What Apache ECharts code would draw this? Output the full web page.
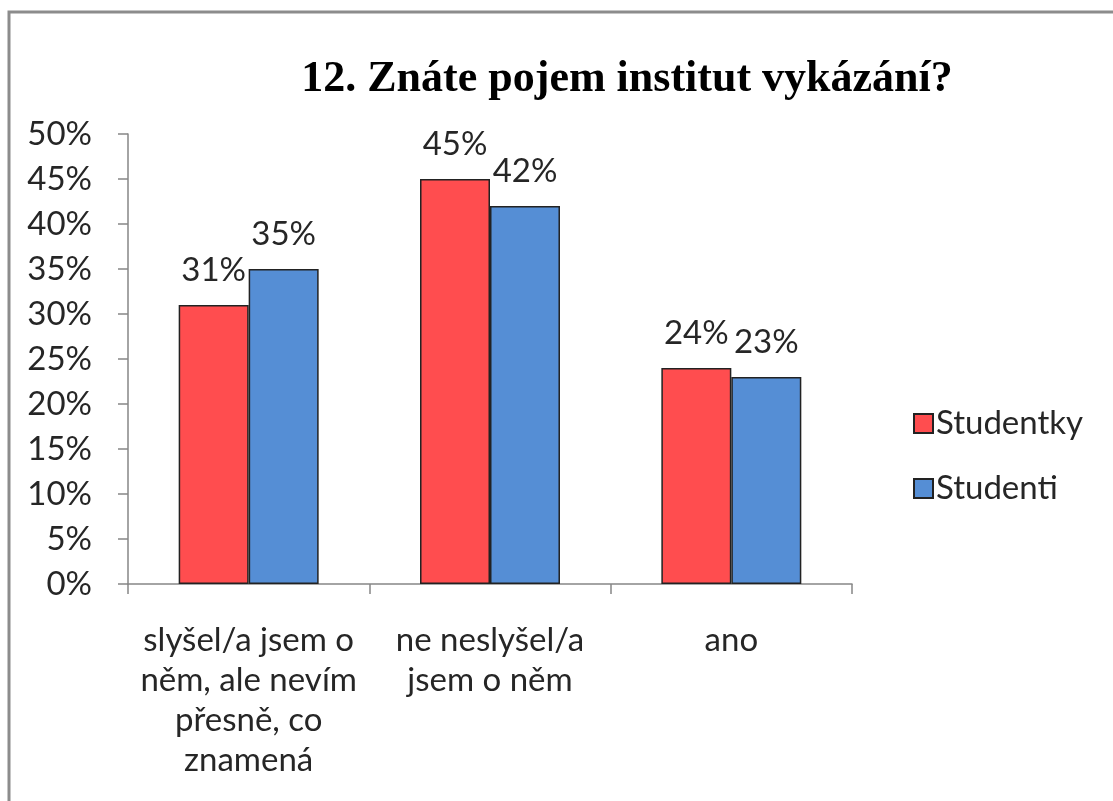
<!DOCTYPE html>
<html>
<head>
<meta charset="utf-8">
<script src="https://cdn.jsdelivr.net/npm/echarts@6/dist/echarts.min.js"></script>
<style>
  html, body { margin: 0; padding: 0; background: #fff; }
  #chart { width: 1113px; height: 801px; }
</style>
</head>
<body>
<div id="chart"></div>
<script>
var categories = ['slyšel/a jsem o\nněm, ale nevím\npřesně, co\nznamená', 'ne neslyšel/a\njsem o něm', 'ano'];
var studentky = [31, 45, 24];
var studenti = [35, 42, 23];
var yTicks = [0, 5, 10, 15, 20, 25, 30, 35, 40, 45, 50];

var txt = '#262626';
var font = 'Lato';
var fs = 33;

var myChart = echarts.init(document.getElementById('chart'));
var option = {
    backgroundColor: '#fff',
    animation: false,
    title: {
        text: '12. Znáte pojem institut vykázání?',
        left: 622,
        top: 53,
        textAlign: 'center',
        textStyle: {
            fontFamily: 'Liberation Serif',
            fontWeight: 'bold',
            fontSize: 44,
            color: '#000'
        }
    },
    graphic: [{
        type: 'rect',
        shape: { x: 9, y: 12, width: 1200, height: 900 },
        style: { fill: 'none', stroke: '#8c8c8c', lineWidth: 3 },
        silent: true
    }],
    legend: {
        orient: 'vertical',
        left: 908,
        top: 402,
        itemWidth: 19,
        itemHeight: 19,
        itemGap: 32,
        icon: 'rect',
        textStyle: { fontFamily: font, fontSize: fs, color: txt, padding: [0, 0, 0, -2] },
        data: ['Studentky', 'Studenti']
    },
    grid: { left: 128, right: 261, top: 134, bottom: 217 },
    xAxis: {
        type: 'category',
        data: categories,
        axisLine: { lineStyle: { color: '#868686', width: 1.5 } },
        axisTick: { show: true, length: 10, lineStyle: { color: '#868686', width: 1.5 } },
        axisLabel: {
            interval: 0,
            margin: 36,
            fontFamily: font,
            fontSize: fs,
            lineHeight: 40,
            color: txt,
            align: 'center'
        }
    },
    yAxis: {
        type: 'value',
        min: yTicks[0],
        max: yTicks[yTicks.length - 1],
        interval: 5,
        splitLine: { show: false },
        axisLine: { show: true, lineStyle: { color: '#868686', width: 1.5 } },
        axisTick: { show: true, length: 10, lineStyle: { color: '#868686', width: 1.5 } },
        axisLabel: {
            margin: 36,
            fontFamily: font,
            fontSize: fs,
            color: txt,
            formatter: '{value}%'
        }
    },
    series: [{
        name: 'Studentky',
        type: 'bar',
        data: studentky,
        barGap: '0%',
        barCategoryGap: '42%',
        itemStyle: { color: '#ff4d4f', borderColor: '#222', borderWidth: 1.5 },
        label: {
            show: true, position: 'top', distance: 18,
            formatter: '{c}%', fontFamily: font, fontSize: fs, color: txt
        }
    }, {
        name: 'Studenti',
        type: 'bar',
        data: studenti,
        barGap: '0%',
        barCategoryGap: '42%',
        itemStyle: { color: '#558ed5', borderColor: '#222', borderWidth: 1.5 },
        label: {
            show: true, position: 'top', distance: 18,
            formatter: '{c}%', fontFamily: font, fontSize: fs, color: txt
        }
    }]
};
myChart.setOption(option);
</script>
</body>
</html>
